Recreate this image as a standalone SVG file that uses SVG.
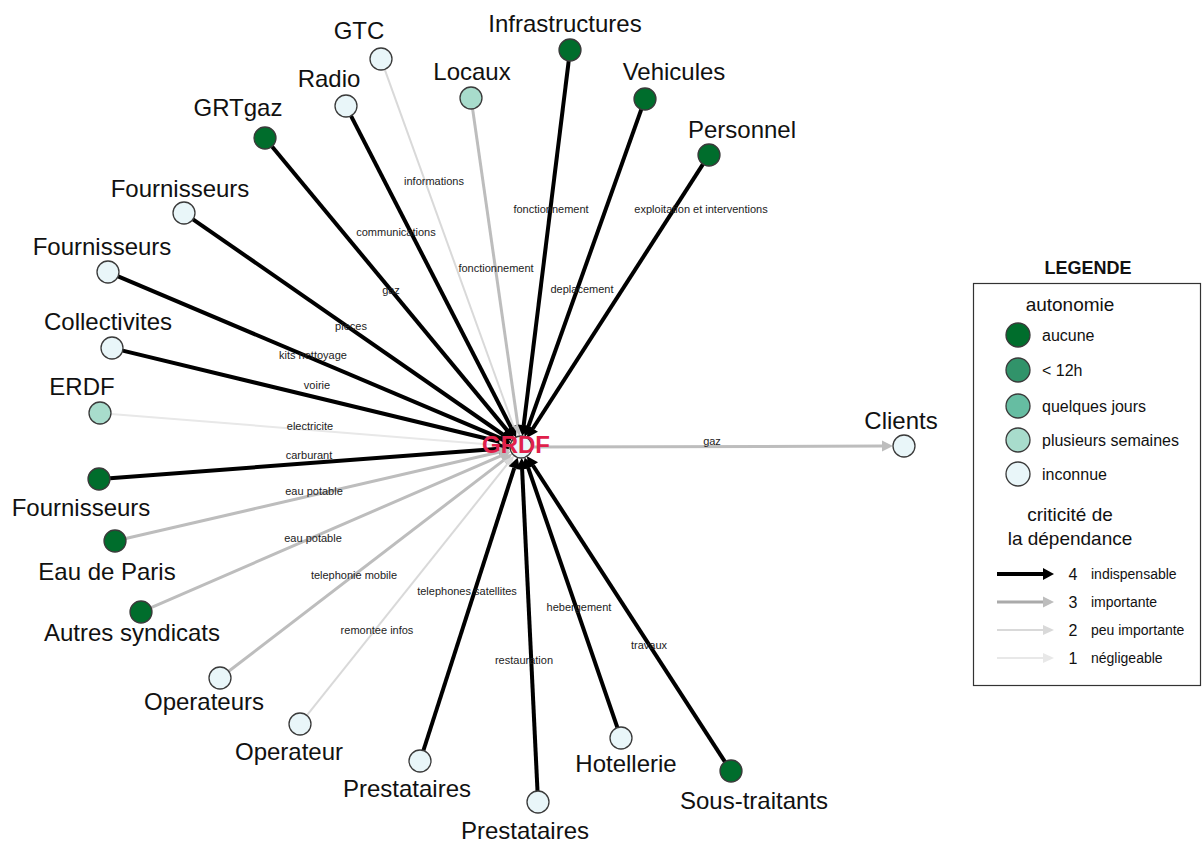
<svg xmlns="http://www.w3.org/2000/svg" width="1203" height="843" viewBox="0 0 1203 843">
<style>
.nd{stroke:#3a3a3a;stroke-width:1.3}
.c0{fill:#006d2c}.c1{fill:#31936a}.c2{fill:#66bda2}.c3{fill:#a8dccc}.c4{fill:#e9f6f9}
.lbl{font-family:"Liberation Sans",Arial,sans-serif;font-size:24px;fill:#111;text-anchor:middle}
.el{font-family:"Liberation Sans",Arial,sans-serif;font-size:11px;fill:#222;text-anchor:middle}
.w4{stroke:#000;stroke-width:4;fill:none;marker-end:url(#a4)}
.w3{stroke:#bdbdbd;stroke-width:3;fill:none;marker-end:url(#a3)}
.w2{stroke:#d9d9d9;stroke-width:2;fill:none;marker-end:url(#a2)}
.w1{stroke:#e8e8e8;stroke-width:2;fill:none;marker-end:url(#a1)}
.lg{font-family:"Liberation Sans",Arial,sans-serif;fill:#111}
</style>
<defs>
<marker id="a4" markerUnits="userSpaceOnUse" markerWidth="12" markerHeight="12" viewBox="0 -6 12 12" refX="0" refY="0" orient="auto" overflow="visible"><path d="M0,-6 L11,0 L0,6 z" fill="#000"/></marker>
<marker id="a3" markerUnits="userSpaceOnUse" markerWidth="12" markerHeight="12" viewBox="0 -6 12 12" refX="0" refY="0" orient="auto" overflow="visible"><path d="M0,-5.5 L11,0 L0,5.5 z" fill="#bdbdbd"/></marker>
<marker id="a2" markerUnits="userSpaceOnUse" markerWidth="12" markerHeight="12" viewBox="0 -6 12 12" refX="0" refY="0" orient="auto" overflow="visible"><path d="M0,-5 L11,0 L0,5 z" fill="#d9d9d9"/></marker>
<marker id="a1" markerUnits="userSpaceOnUse" markerWidth="12" markerHeight="12" viewBox="0 -6 12 12" refX="0" refY="0" orient="auto" overflow="visible"><path d="M0,-5 L11,0 L0,5 z" fill="#e8e8e8"/></marker>
</defs>
<rect width="1203" height="843" fill="#fff"/>
<g id="connectors">
<line class="w2" x1="384.7" y1="69.3" x2="513.5" y2="426.3"/>
<line class="w4" x1="351.0" y1="115.8" x2="511.0" y2="427.4"/>
<line class="w4" x1="272.0" y1="146.5" x2="507.0" y2="430.1"/>
<line class="w3" x1="472.6" y1="108.9" x2="517.9" y2="425.2"/>
<line class="w4" x1="568.7" y1="60.9" x2="523.7" y2="425.2"/>
<line class="w4" x1="641.3" y1="109.4" x2="528.4" y2="426.3"/>
<line class="w4" x1="703.0" y1="164.2" x2="532.9" y2="428.5"/>
<line class="w4" x1="193.0" y1="219.3" x2="502.9" y2="434.5"/>
<line class="w4" x1="118.1" y1="276.3" x2="500.7" y2="438.4"/>
<line class="w4" x1="122.7" y1="350.6" x2="499.6" y2="441.8"/>
<line class="w1" x1="111.0" y1="413.9" x2="499.1" y2="445.2"/>
<line class="w4" x1="110.0" y1="478.2" x2="499.1" y2="448.7"/>
<line class="w3" x1="125.7" y1="538.5" x2="499.6" y2="452.0"/>
<line class="w3" x1="151.1" y1="607.6" x2="500.8" y2="455.8"/>
<line class="w3" x1="228.7" y1="671.3" x2="503.5" y2="460.4"/>
<line class="w2" x1="306.9" y1="715.4" x2="507.3" y2="464.2"/>
<line class="w4" x1="423.4" y1="750.5" x2="514.3" y2="468.0"/>
<line class="w4" x1="537.5" y1="791.0" x2="522.1" y2="469.0"/>
<line class="w4" x1="617.4" y1="727.6" x2="528.2" y2="467.8"/>
<line class="w4" x1="725.0" y1="761.8" x2="533.0" y2="465.5"/>
<line class="w3" x1="532" y1="447" x2="882" y2="446.1"/>
<text class="el" x="434" y="185">informations</text>
<text class="el" x="396" y="236">communications</text>
<text class="el" x="391" y="294">gaz</text>
<text class="el" x="351" y="330">pieces</text>
<text class="el" x="313" y="359">kits nettoyage</text>
<text class="el" x="317" y="389">voirie</text>
<text class="el" x="310" y="430">electricite</text>
<text class="el" x="309" y="459">carburant</text>
<text class="el" x="314" y="495">eau potable</text>
<text class="el" x="313" y="542">eau potable</text>
<text class="el" x="354" y="579">telephonie mobile</text>
<text class="el" x="377" y="634">remontee infos</text>
<text class="el" x="467" y="595">telephones satellites</text>
<text class="el" x="524" y="664">restauration</text>
<text class="el" x="579" y="611">hebergement</text>
<text class="el" x="649" y="649">travaux</text>
<text class="el" x="551" y="213">fonctionnement</text>
<text class="el" x="496" y="272">fonctionnement</text>
<text class="el" x="582" y="293">deplacement</text>
<text class="el" x="701" y="213">exploitation et interventions</text>
<text class="el" x="712" y="445">gaz</text>
</g>
<g id="n-gtc"><circle class="nd c4" cx="381" cy="59" r="11"/><text class="lbl" x="359" y="39">GTC</text></g>
<g id="n-radio"><circle class="nd c4" cx="346" cy="106" r="11"/><text class="lbl" x="329" y="87">Radio</text></g>
<g id="n-grtgaz"><circle class="nd c0" cx="265" cy="138" r="11"/><text class="lbl" x="238" y="116">GRTgaz</text></g>
<g id="n-locaux"><circle class="nd c3" cx="471" cy="98" r="11"/><text class="lbl" x="472" y="80">Locaux</text></g>
<g id="n-infra"><circle class="nd c0" cx="570" cy="50" r="11"/><text class="lbl" x="565" y="32">Infrastructures</text></g>
<g id="n-vehicules"><circle class="nd c0" cx="645" cy="99" r="11"/><text class="lbl" x="674" y="80">Vehicules</text></g>
<g id="n-personnel"><circle class="nd c0" cx="709" cy="155" r="11"/><text class="lbl" x="742" y="138">Personnel</text></g>
<g id="n-fourn1"><circle class="nd c4" cx="184" cy="213" r="11"/><text class="lbl" x="180" y="197">Fournisseurs</text></g>
<g id="n-fourn2"><circle class="nd c4" cx="108" cy="272" r="11"/><text class="lbl" x="102" y="255">Fournisseurs</text></g>
<g id="n-collect"><circle class="nd c4" cx="112" cy="348" r="11"/><text class="lbl" x="108" y="330">Collectivites</text></g>
<g id="n-erdf"><circle class="nd c3" cx="100" cy="413" r="11"/><text class="lbl" x="82" y="395">ERDF</text></g>
<g id="n-fourn3"><circle class="nd c0" cx="99" cy="479" r="11"/><text class="lbl" x="81" y="516">Fournisseurs</text></g>
<g id="n-eau"><circle class="nd c0" cx="115" cy="541" r="11"/><text class="lbl" x="107" y="580">Eau de Paris</text></g>
<g id="n-autres"><circle class="nd c0" cx="141" cy="612" r="11"/><text class="lbl" x="132" y="641">Autres syndicats</text></g>
<g id="n-operateurs"><circle class="nd c4" cx="220" cy="678" r="11"/><text class="lbl" x="204" y="710">Operateurs</text></g>
<g id="n-operateur"><circle class="nd c4" cx="300" cy="724" r="11"/><text class="lbl" x="289" y="760">Operateur</text></g>
<g id="n-prest1"><circle class="nd c4" cx="420" cy="761" r="11"/><text class="lbl" x="407" y="797">Prestataires</text></g>
<g id="n-prest2"><circle class="nd c4" cx="538" cy="802" r="11"/><text class="lbl" x="525" y="839">Prestataires</text></g>
<g id="n-hotel"><circle class="nd c4" cx="621" cy="738" r="11"/><text class="lbl" x="626" y="772">Hotellerie</text></g>
<g id="n-sous"><circle class="nd c0" cx="731" cy="771" r="11"/><text class="lbl" x="754" y="809">Sous-traitants</text></g>
<g id="n-clients"><circle class="nd c4" cx="904" cy="446" r="11"/><text class="lbl" x="901" y="429">Clients</text></g>
<g id="n-grdf"><circle class="nd c4" cx="521" cy="447" r="11"/><text x="516" y="453" font-family="Liberation Sans,Arial,sans-serif" font-size="24" font-weight="bold" fill="#e0204a" text-anchor="middle">GRDF</text></g>
<g id="legend">
<text class="lg" x="1088" y="274" font-size="18" font-weight="bold" text-anchor="middle">LEGENDE</text>
<rect x="973.5" y="283.5" width="227" height="402" fill="#fff" stroke="#333" stroke-width="1.2"/>
<text class="lg" x="1070" y="311" font-size="19" text-anchor="middle">autonomie</text>
<circle class="nd c0" cx="1018" cy="335" r="12"/><text class="lg" x="1042" y="341" font-size="16">aucune</text>
<circle class="nd c1" cx="1018" cy="370" r="12"/><text class="lg" x="1042" y="376" font-size="16">&lt; 12h</text>
<circle class="nd c2" cx="1018" cy="406" r="12"/><text class="lg" x="1042" y="412" font-size="16">quelques jours</text>
<circle class="nd c3" cx="1018" cy="440" r="12"/><text class="lg" x="1042" y="446" font-size="16">plusieurs semaines</text>
<circle class="nd c4" cx="1018" cy="474" r="12"/><text class="lg" x="1042" y="480" font-size="16">inconnue</text>
<text class="lg" x="1070" y="521" font-size="19" text-anchor="middle">criticité de</text>
<text class="lg" x="1070" y="545" font-size="19" text-anchor="middle">la dépendance</text>
<line class="w4" x1="997" y1="574" x2="1043" y2="574"/>
<line stroke="#aaaaaa" stroke-width="3" x1="997" y1="602" x2="1043" y2="602" marker-end="url(#a3)"/>
<line class="w2" x1="997" y1="630" x2="1043" y2="630"/>
<line class="w1" x1="997" y1="658" x2="1043" y2="658"/>
<text class="lg" x="1073" y="580" font-size="16" text-anchor="middle">4</text><text class="lg" x="1091" y="579" font-size="14">indispensable</text>
<text class="lg" x="1073" y="608" font-size="16" text-anchor="middle">3</text><text class="lg" x="1091" y="607" font-size="14">importante</text>
<text class="lg" x="1073" y="636" font-size="16" text-anchor="middle">2</text><text class="lg" x="1091" y="635" font-size="14">peu importante</text>
<text class="lg" x="1073" y="664" font-size="16" text-anchor="middle">1</text><text class="lg" x="1091" y="663" font-size="14">négligeable</text>
</g>
</svg>
